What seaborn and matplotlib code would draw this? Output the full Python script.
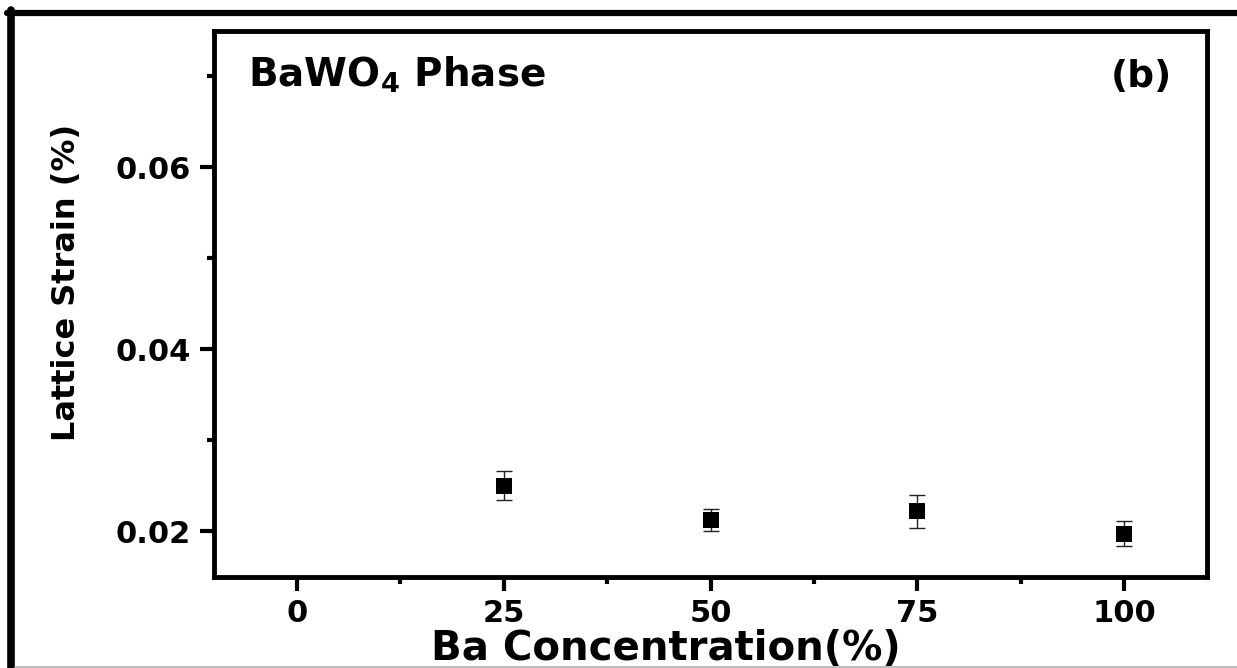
import matplotlib
matplotlib.use("Agg")
import matplotlib.pyplot as plt
import seaborn as sns
import pandas as pd
from matplotlib.lines import Line2D

# ---- data ----
ba_conc = [25, 50, 75, 100]
strain = [0.0250, 0.02123, 0.02221, 0.01975]
strain_err = [0.0016, 0.0012, 0.0018, 0.0014]
x_ticks = [0, 25, 50, 75, 100]
y_ticks = [0.02, 0.04, 0.06]
y_tick_labels = ["0.02", "0.04", "0.06"]

sns.set_theme(style="ticks")
plt.rcParams['font.family'] = ['DejaVu Sans']
plt.rcParams['mathtext.default'] = 'bf'
plt.rcParams['text.color'] = 'black'
plt.rcParams['axes.labelcolor'] = 'black'
plt.rcParams['xtick.color'] = 'black'
plt.rcParams['ytick.color'] = 'black'

df = pd.DataFrame({"conc": ba_conc, "strain": strain, "err": strain_err})

fig = plt.figure(figsize=(12.37, 6.68), dpi=100)
ax = fig.add_axes([214/1237, 1-577/668, (1207-214)/1237, (577-30.5)/668])

ax.errorbar(df["conc"], df["strain"], yerr=df["err"], fmt='none',
            ecolor='#222222', elinewidth=1.0, capsize=6, capthick=1.0, zorder=2)
sns.scatterplot(data=df, x="conc", y="strain", marker='s', s=140,
                color='black', edgecolor='black', linewidth=0, ax=ax, zorder=3)

ax.set_xlim(-10, 110)
ax.set_ylim(0.015, 0.075)
ax.set_xticks(x_ticks)
ax.set_xticklabels([str(v) for v in x_ticks])
ax.set_xticks([12.5, 37.5, 62.5, 87.5], minor=True)
ax.set_yticks(y_ticks)
ax.set_yticklabels(y_tick_labels)
ax.set_yticks([0.03, 0.05, 0.07], minor=True)

for s in ax.spines.values():
    s.set_linewidth(3.5)
    s.set_color('black')
    s.set_visible(True)

ax.tick_params(axis='both', which='major', direction='out', length=10, width=3,
               labelsize=22, color='black', labelcolor='black')
ax.tick_params(axis='both', which='minor', direction='out', length=5, width=3,
               color='black')
ax.tick_params(axis='x', which='major', pad=6)
ax.tick_params(axis='y', which='major', pad=7)
for lab in ax.get_xticklabels() + ax.get_yticklabels():
    lab.set_fontweight('bold')

ax.set_xlabel("Ba Concentration(%)", fontsize=29, fontweight='bold', color='black')
ax.set_ylabel("Lattice Strain (%)", fontsize=23, fontweight='bold', color='black')
ax.xaxis.set_label_coords(0.455, -0.095)
ax.yaxis.set_label_coords(-0.133, 0.539)

ax.text(0.034, 0.897, r"BaWO$_4$ Phase", transform=ax.transAxes, fontsize=28,
        fontweight='bold', ha='left', va='baseline', color='black')
ax.text(0.965, 0.897, "(b)", transform=ax.transAxes, fontsize=27,
        fontweight='bold', ha='right', va='baseline', color='black')

# outer frame of the original panel
W, H = 1237, 668
fig.add_artist(Line2D([7/W, 1.0], [1-13/H, 1-13/H], transform=fig.transFigure,
                      color='black', linewidth=4.5))
fig.add_artist(Line2D([11/W, 11/W], [1-10/H, 0.0], transform=fig.transFigure,
                      color='black', linewidth=5.5))
fig.add_artist(Line2D([15/W, 1.0], [1-666.5/H, 1-666.5/H], transform=fig.transFigure,
                      color='#b0b0b0', linewidth=1.2))

fig.savefig("out.png", dpi=100, facecolor='white')
